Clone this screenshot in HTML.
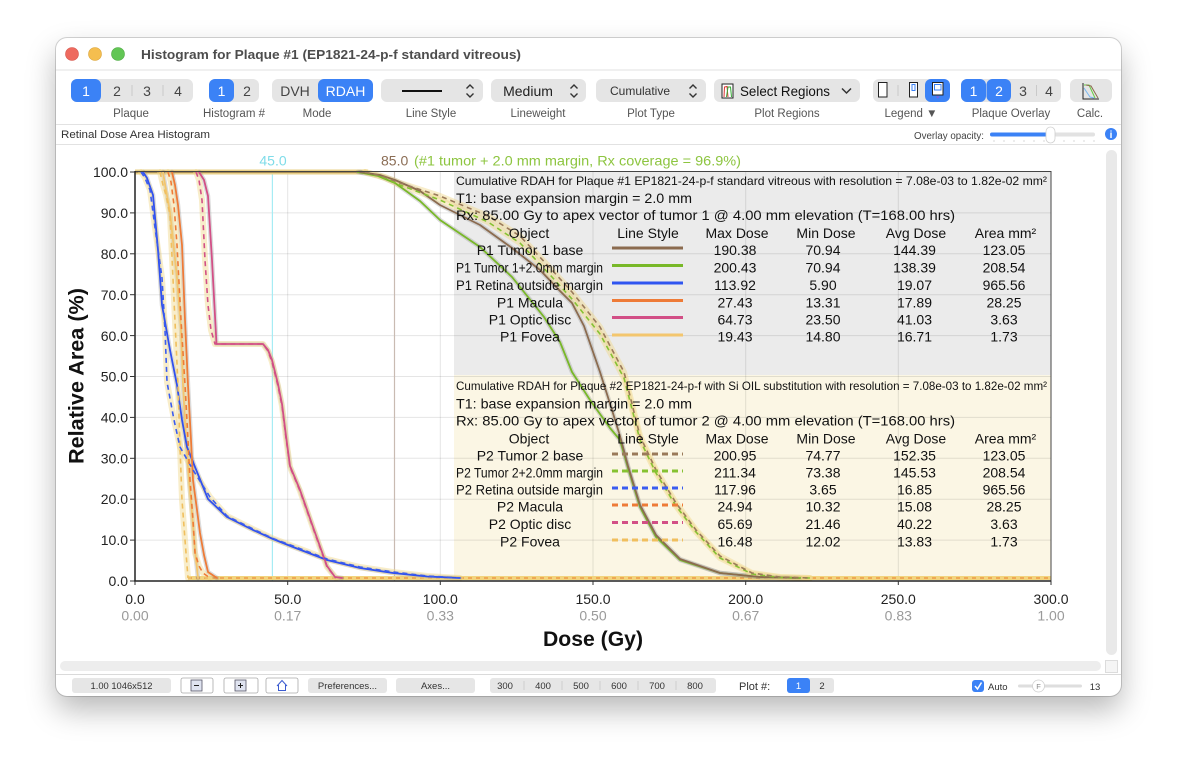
<!DOCTYPE html>
<html><head><meta charset="utf-8">
<style>
html,body{margin:0;padding:0;background:#fff;width:1177px;height:770px;overflow:hidden}
#win{position:absolute;left:56px;top:38px;width:1065px;height:658px;border-radius:11px;background:#fff;box-shadow:0 14px 30px rgba(0,0,0,0.28),0 0 0 1px rgba(0,0,0,0.16)}
svg{position:absolute;left:0;top:0}
text{font-family:"Liberation Sans",sans-serif}
</style></head><body>
<div id="win"></div>
<svg width="1177" height="770" viewBox="0 0 1177 770" xmlns="http://www.w3.org/2000/svg">
<defs>
<polyline id="b1" points="360,172 380,175 395,180 420,191 440,205 480,225 512,248 540,270 560,291 572,303 584,326 600,372 612,410 620,436 628,466 640,505 656,535 680,559 720,573 760,577 800,578"/>
<polyline id="g1" points="358,172 378,176 395,183 420,201 440,220 480,247 512,277 544,317 560,342 572,372 590,400 610,428 620,440 628,468 640,507 656,537 680,560 720,573 760,577 800,578"/>
<polyline id="b2" points="365,172 385,177 400,183 440,196 488,216 520,236 552,270 572,292 600,327 624,372 640,436 656,470 676,503 696,530 720,556 752,573 780,577 810,578"/>
<polyline id="g2" points="365,172 385,178 400,185 440,200 488,222 520,243 552,277 572,299 600,334 624,378 640,440 656,473 676,506 696,532 720,558 752,574 780,577.5 810,578"/>
<polyline id="o1" points="199,172 204,180 208,196 212,260 216.5,344 263,344 268,350 272,360 278,384 282,404 286,436 290,466 300,490 313,527 327,566 335,577 342,578"/>
<polyline id="o2" points="196,172 199,180 202,200 205,260 208,305 211,330 215,344 263,344 268,351 272,362 278,386 282,406 286,438 290,467 300,491 313,528 327,567 336,578"/>
<polyline id="r1" points="143,172 147,178 153,195 158,250 162,305 170,350 177,385 182,420 187,447 195,467 208,499 227,517 253,530 273,539 293,547 327,560 360,568 393,573 427,576.5 460,578"/>
<polyline id="r2" points="141,172 145,178 150,190 156,235 162,278 165,330 167,382 174,420 180,447 193,470 210,497 227,516 253,529 273,538.5 293,546 327,559 360,567 393,572 427,576 460,578"/>
<polyline id="m1" points="172,172 175,185 178,205 182,245 185,320 188,385 191,440 193,480 197,510 200,533 204,555 208,572 217,578"/>
<polyline id="m2" points="168,172 171,182 174,205 177,245 181,320 185,385 188,440 190,480 193,520 195,553 199,566 203,573 210,578"/>
<polyline id="f1" points="163,172 166,190 170,212 177,278 181,330 183,385 186,440 189,480 192,513 195,550 198,578"/>
<polyline id="f2" points="160,172 163,185 166,195 170,215 174,300 178,385 180,447 182,500 185,540 188,578"/>
</defs>

<!-- Title bar -->
<circle cx="72" cy="54" r="6.5" fill="#ee6a5f" stroke="#d4584e" stroke-width="0.6"/>
<circle cx="95" cy="54" r="6.5" fill="#f5be4f" stroke="#d9a53d" stroke-width="0.6"/>
<circle cx="118" cy="54" r="6.5" fill="#62c655" stroke="#4fa944" stroke-width="0.6"/>
<text x="141" y="59" font-size="13" font-weight="bold" fill="#4d4d4d" textLength="380" lengthAdjust="spacingAndGlyphs">Histogram for Plaque #1 (EP1821-24-p-f standard vitreous)</text>
<line x1="56" y1="70" x2="1121" y2="70" stroke="#e2e2e2"/>

<!-- Toolbar -->
<g font-size="14" text-anchor="middle">
<rect x="71" y="79" width="122" height="23" rx="6" fill="#e5e5e5"/>
<rect x="71" y="79" width="30" height="23" rx="6" fill="#3b82f6"/>
<text x="86" y="96" fill="#fff">1</text>
<text x="117" y="96" fill="#444">2</text>
<text x="147" y="96" fill="#444">3</text>
<text x="178" y="96" fill="#444">4</text>
<line x1="132" y1="85" x2="132" y2="96" stroke="#c9c9c9"/>
<line x1="163" y1="85" x2="163" y2="96" stroke="#c9c9c9"/>

<rect x="209" y="79" width="50" height="23" rx="6" fill="#e5e5e5"/>
<rect x="209" y="79" width="25" height="23" rx="6" fill="#3b82f6"/>
<text x="221.5" y="96" fill="#fff">1</text>
<text x="247" y="96" fill="#444">2</text>

<rect x="272" y="79" width="101" height="23" rx="6" fill="#e5e5e5"/>
<rect x="318" y="79" width="55" height="23" rx="6" fill="#3b82f6"/>
<text x="295" y="96" fill="#444">DVH</text>
<text x="345.5" y="96" fill="#fff">RDAH</text>

<rect x="381" y="79" width="102" height="23" rx="6" fill="#e5e5e5"/>
<line x1="402" y1="91" x2="442" y2="91" stroke="#111" stroke-width="2"/>
<path d="M466.5 88.5 L470 85 L473.5 88.5 M466.5 93.5 L470 97 L473.5 93.5" stroke="#333" stroke-width="1.4" fill="none"/>

<rect x="491" y="79" width="95" height="23" rx="6" fill="#e5e5e5"/>
<text x="528" y="96" fill="#222">Medium</text>
<path d="M570.5 88.5 L574 85 L577.5 88.5 M570.5 93.5 L574 97 L577.5 93.5" stroke="#333" stroke-width="1.4" fill="none"/>

<rect x="596" y="79" width="110" height="23" rx="6" fill="#e5e5e5"/>
<text x="640" y="95" fill="#333" font-size="12">Cumulative</text>
<path d="M689.5 88.5 L693 85 L696.5 88.5 M689.5 93.5 L693 97 L696.5 93.5" stroke="#333" stroke-width="1.4" fill="none"/>

<rect x="714" y="79" width="146" height="23" rx="6" fill="#e5e5e5"/>
<rect x="722" y="84" width="11" height="14" fill="#fff" stroke="#222" stroke-width="1"/>
<path d="M724 97 L724.5 87 L727 86.5 L728 97" stroke="#d33" stroke-width="1" fill="none"/>
<path d="M726.5 97 L728 87 L730.5 87 L731.5 97" stroke="#3a3" stroke-width="1" fill="none"/>
<text x="740" y="96" fill="#111" text-anchor="start" textLength="90" lengthAdjust="spacingAndGlyphs">Select Regions</text>
<path d="M842 88.5 L846.5 93 L851 88.5" stroke="#333" stroke-width="1.5" fill="none"/>

<rect x="873" y="79" width="77" height="23" rx="6" fill="#e5e5e5"/>
<rect x="878.5" y="82.5" width="8.5" height="14.5" fill="#fff" stroke="#222" stroke-width="1"/>
<line x1="898" y1="85" x2="898" y2="96" stroke="#c9c9c9"/>
<rect x="909.5" y="82.5" width="8" height="14.5" fill="#fff" stroke="#222" stroke-width="1"/>
<rect x="912" y="84.5" width="3" height="6" fill="none" stroke="#3b82f6" stroke-width="1"/>
<rect x="925" y="79" width="25" height="23" rx="6" fill="#3b82f6"/>
<rect x="932.5" y="82.5" width="10.5" height="12.5" fill="#fff" stroke="#222" stroke-width="1"/>
<rect x="934.5" y="84.5" width="6.5" height="5.5" fill="none" stroke="#3b82f6" stroke-width="1"/>
<path d="M936 96.5 L939.5 96.5 L937.75 98.5 Z" fill="#8a5ad8"/>

<rect x="961" y="79" width="100" height="23" rx="6" fill="#e5e5e5"/>
<rect x="961" y="79" width="25" height="23" rx="6" fill="#3b82f6"/>
<rect x="986.5" y="79" width="24.5" height="23" rx="6" fill="#3b82f6"/>
<text x="973.5" y="96" fill="#fff">1</text>
<text x="999" y="96" fill="#fff">2</text>
<text x="1023" y="96" fill="#444">3</text>
<text x="1049" y="96" fill="#444">4</text>
<line x1="1036.5" y1="85" x2="1036.5" y2="96" stroke="#c9c9c9"/>

<rect x="1070" y="79" width="42" height="23" rx="6" fill="#e5e5e5"/>
<path d="M1083 83 L1083 99 L1099 99" stroke="#222" stroke-width="1" fill="none"/>
<path d="M1084 85 L1089 85 L1095 98" stroke="#6c4" stroke-width="1" fill="none"/>
<path d="M1086 85 L1091 86 L1098 98" stroke="#8b6b4f" stroke-width="1" fill="none"/>
<path d="M1084 88 L1090 97 L1094 98" stroke="#7ab8f0" stroke-width="1" fill="none"/>
</g>
<g font-size="11.5" fill="#555" text-anchor="middle">
<text x="131" y="117">Plaque</text>
<text x="234" y="117">Histogram #</text>
<text x="317" y="117">Mode</text>
<text x="431" y="117">Line Style</text>
<text x="538" y="117">Lineweight</text>
<text x="651" y="117">Plot Type</text>
<text x="787" y="117">Plot Regions</text>
<text x="911" y="117">Legend ▼</text>
<text x="1011" y="117">Plaque Overlay</text>
<text x="1090" y="117">Calc.</text>
</g>
<line x1="56" y1="124.5" x2="1121" y2="124.5" stroke="#e2e2e2"/>
<text x="61" y="138" font-size="11" fill="#333" textLength="149" lengthAdjust="spacingAndGlyphs">Retinal Dose Area Histogram</text>
<text x="914" y="139" font-size="10" fill="#444" textLength="70" lengthAdjust="spacingAndGlyphs">Overlay opacity:</text>
<rect x="990" y="132.5" width="105" height="4" rx="2" fill="#e2e2e2"/>
<rect x="990" y="132.5" width="60" height="4" rx="2" fill="#3b82f6"/>
<g fill="#bbb"><circle cx="994" cy="141" r="0.6"/><circle cx="1004" cy="141" r="0.6"/><circle cx="1014" cy="141" r="0.6"/><circle cx="1024" cy="141" r="0.6"/><circle cx="1034" cy="141" r="0.6"/><circle cx="1044" cy="141" r="0.6"/><circle cx="1054" cy="141" r="0.6"/><circle cx="1064" cy="141" r="0.6"/><circle cx="1074" cy="141" r="0.6"/><circle cx="1084" cy="141" r="0.6"/><circle cx="1094" cy="141" r="0.6"/></g>
<rect x="1046" y="127" width="9" height="16" rx="4.5" fill="#fff" stroke="#d0d0d0" stroke-width="0.8"/>
<circle cx="1111" cy="134" r="6" fill="#3b82f6"/>
<text x="1111" y="138" font-size="10" font-weight="bold" fill="#fff" text-anchor="middle">i</text>
<line x1="56" y1="144.5" x2="1121" y2="144.5" stroke="#e2e2e2"/>

<!-- Plot -->
<rect x="454" y="172" width="597" height="203" fill="#ebebeb"/>
<rect x="454" y="375" width="597" height="202" fill="#fbf6e4"/>
<g stroke="#000" stroke-opacity="0.1" stroke-width="1">
<line x1="135" y1="540.1" x2="1051" y2="540.1"/>
<line x1="135" y1="499.2" x2="1051" y2="499.2"/>
<line x1="135" y1="458.3" x2="1051" y2="458.3"/>
<line x1="135" y1="417.4" x2="1051" y2="417.4"/>
<line x1="135" y1="376.5" x2="1051" y2="376.5"/>
<line x1="135" y1="335.6" x2="1051" y2="335.6"/>
<line x1="135" y1="294.7" x2="1051" y2="294.7"/>
<line x1="135" y1="253.8" x2="1051" y2="253.8"/>
<line x1="135" y1="212.9" x2="1051" y2="212.9"/>
<line x1="287.7" y1="172" x2="287.7" y2="581"/>
<line x1="440.3" y1="172" x2="440.3" y2="581"/>
<line x1="593" y1="172" x2="593" y2="581"/>
<line x1="745.7" y1="172" x2="745.7" y2="581"/>
<line x1="898.3" y1="172" x2="898.3" y2="581"/>
</g>
<line x1="272.4" y1="172" x2="272.4" y2="581" stroke="#a6ecf4" stroke-width="1.2"/>
<line x1="394.5" y1="172" x2="394.5" y2="581" stroke="#c9bbb2" stroke-width="1.2"/>

<!-- plateau and baseline bands -->
<line x1="135" y1="172" x2="368" y2="172" stroke="#e8d08a" stroke-width="5"/>
<line x1="135" y1="172" x2="368" y2="172" stroke="#a88d55" stroke-width="2"/>
<line x1="188" y1="578" x2="1051" y2="578" stroke="#f2d47e" stroke-width="4"/>
<line x1="188" y1="578" x2="1051" y2="578" stroke="#ec8f3c" stroke-width="1.2" stroke-dasharray="4 4"/>

<!-- curves -->
<g fill="none" stroke-linejoin="round" stroke-linecap="round">
<g stroke="#8a8a8a" stroke-opacity="0.3" stroke-width="4.5">
<use href="#r1"/><use href="#m1"/><use href="#f1"/><use href="#o1"/><use href="#b1"/><use href="#g1"/>
</g>
<g stroke="#f0d68a" stroke-opacity="0.45" stroke-width="6">
<use href="#r2"/><use href="#m2"/><use href="#f2"/><use href="#o2"/><use href="#b2"/><use href="#g2"/>
</g>
<g stroke-width="1.8">
<use href="#f1" stroke="#f3c66e"/>
<use href="#r1" stroke="#3050ee"/>
<use href="#m1" stroke="#ee7b37"/>
<use href="#o1" stroke="#d24f86"/>
<use href="#g1" stroke="#78b828"/>
<use href="#b1" stroke="#8b6b4f"/>
</g>
<g stroke-width="1.6" stroke-dasharray="5 4" stroke-linecap="butt">
<use href="#f2" stroke="#f0bf5e"/>
<use href="#r2" stroke="#3a5cf0"/>
<use href="#m2" stroke="#ee7b37"/>
<use href="#o2" stroke="#d24f86"/>
<use href="#g2" stroke="#86c232"/>
<use href="#b2" stroke="#9a7a5a"/>
</g>
</g>

<!-- frame and axes -->
<rect x="135" y="171.5" width="916" height="409.5" fill="none" stroke="#444" stroke-width="1"/>
<line x1="135" y1="171" x2="135" y2="581.5" stroke="#222" stroke-width="1.5"/>
<line x1="134" y1="581" x2="1051" y2="581" stroke="#222" stroke-width="1.5"/>
<g stroke="#333" stroke-width="1">
<line x1="130" y1="172" x2="135" y2="172"/>
<line x1="130" y1="212.9" x2="135" y2="212.9"/>
<line x1="130" y1="253.8" x2="135" y2="253.8"/>
<line x1="130" y1="294.7" x2="135" y2="294.7"/>
<line x1="130" y1="335.6" x2="135" y2="335.6"/>
<line x1="130" y1="376.5" x2="135" y2="376.5"/>
<line x1="130" y1="417.4" x2="135" y2="417.4"/>
<line x1="130" y1="458.3" x2="135" y2="458.3"/>
<line x1="130" y1="499.2" x2="135" y2="499.2"/>
<line x1="130" y1="540.1" x2="135" y2="540.1"/>
<line x1="130" y1="581" x2="135" y2="581"/>
<line x1="135" y1="581" x2="135" y2="585"/>
<line x1="287.7" y1="581" x2="287.7" y2="585"/>
<line x1="440.3" y1="581" x2="440.3" y2="585"/>
<line x1="593" y1="581" x2="593" y2="585"/>
<line x1="745.7" y1="581" x2="745.7" y2="585"/>
<line x1="898.3" y1="581" x2="898.3" y2="585"/>
<line x1="1051" y1="581" x2="1051" y2="585"/>
</g>
<g font-size="14" fill="#222" text-anchor="end">
<text x="128" y="177">100.0</text>
<text x="128" y="218">90.0</text>
<text x="128" y="259">80.0</text>
<text x="128" y="300">70.0</text>
<text x="128" y="341">60.0</text>
<text x="128" y="381.5">50.0</text>
<text x="128" y="422.5">40.0</text>
<text x="128" y="463.5">30.0</text>
<text x="128" y="504">20.0</text>
<text x="128" y="545">10.0</text>
<text x="128" y="586">0.0</text>
</g>
<g font-size="14" fill="#222" text-anchor="middle">
<text x="135" y="604">0.0</text>
<text x="287.7" y="604">50.0</text>
<text x="440.3" y="604">100.0</text>
<text x="593" y="604">150.0</text>
<text x="745.7" y="604">200.0</text>
<text x="898.3" y="604">250.0</text>
<text x="1051" y="604">300.0</text>
</g>
<g font-size="14" fill="#9a9a9a" text-anchor="middle">
<text x="135" y="620.5">0.00</text>
<text x="287.7" y="620.5">0.17</text>
<text x="440.3" y="620.5">0.33</text>
<text x="593" y="620.5">0.50</text>
<text x="745.7" y="620.5">0.67</text>
<text x="898.3" y="620.5">0.83</text>
<text x="1051" y="620.5">1.00</text>
</g>
<text x="593" y="646" font-size="21" font-weight="bold" fill="#111" text-anchor="middle" textLength="100" lengthAdjust="spacingAndGlyphs">Dose (Gy)</text>
<text transform="translate(83.5,376) rotate(-90)" font-size="21" font-weight="bold" fill="#111" text-anchor="middle" textLength="176" lengthAdjust="spacingAndGlyphs">Relative Area (%)</text>

<text x="273" y="165.5" font-size="14" fill="#7fdce9" text-anchor="middle">45.0</text>
<text x="381" y="165.5" font-size="14" fill="#8b6d55">85.0</text>
<text x="414" y="165.5" font-size="14" fill="#8dc540" textLength="327" lengthAdjust="spacingAndGlyphs">(#1 tumor + 2.0 mm margin, Rx coverage = 96.9%)</text>

<!-- legend 1 -->
<g fill="#111">
<text x="456" y="185" font-size="12" textLength="591" lengthAdjust="spacingAndGlyphs">Cumulative RDAH for Plaque #1 EP1821-24-p-f standard vitreous with resolution = 7.08e-03 to 1.82e-02 mm²</text>
<text x="456" y="203" font-size="14" textLength="236" lengthAdjust="spacingAndGlyphs">T1: base expansion margin = 2.0 mm</text>
<text x="456" y="220" font-size="14" textLength="499" lengthAdjust="spacingAndGlyphs">Rx: 85.00 Gy to apex vector of tumor 1 @ 4.00 mm elevation (T=168.00 hrs)</text>
<g font-size="14" text-anchor="middle">
<text x="529" y="238">Object</text>
<text x="648" y="238">Line Style</text>
<text x="737" y="238">Max Dose</text>
<text x="826" y="238">Min Dose</text>
<text x="916" y="238">Avg Dose</text>
<text x="1005.5" y="238">Area mm²</text>

<text x="530" y="255">P1 Tumor 1 base</text>
<text x="735" y="255">190.38</text><text x="823" y="255">70.94</text><text x="914.5" y="255">144.39</text><text x="1004" y="255">123.05</text>
<text x="735" y="272.3">200.43</text><text x="823" y="272.3">70.94</text><text x="914.5" y="272.3">138.39</text><text x="1004" y="272.3">208.54</text>
<text x="735" y="290">113.92</text><text x="823" y="290">5.90</text><text x="914.5" y="290">19.07</text><text x="1004" y="290">965.56</text>
<text x="530" y="307.3">P1 Macula</text>
<text x="735" y="307.3">27.43</text><text x="823" y="307.3">13.31</text><text x="914.5" y="307.3">17.89</text><text x="1004" y="307.3">28.25</text>
<text x="530" y="324.3">P1 Optic disc</text>
<text x="735" y="324.3">64.73</text><text x="823" y="324.3">23.50</text><text x="914.5" y="324.3">41.03</text><text x="1004" y="324.3">3.63</text>
<text x="530" y="341.7">P1 Fovea</text>
<text x="735" y="341.7">19.43</text><text x="823" y="341.7">14.80</text><text x="914.5" y="341.7">16.71</text><text x="1004" y="341.7">1.73</text>
</g>
<text x="456" y="272.3" font-size="14" textLength="147" lengthAdjust="spacingAndGlyphs">P1 Tumor 1+2.0mm margin</text>
<text x="456" y="290" font-size="14" textLength="147" lengthAdjust="spacingAndGlyphs">P1 Retina outside margin</text>
</g>
<g stroke-width="3">
<line x1="612" y1="248" x2="683" y2="248" stroke="#8b6b4f"/>
<line x1="612" y1="265.5" x2="683" y2="265.5" stroke="#78b828"/>
<line x1="612" y1="283" x2="683" y2="283" stroke="#2f55f0"/>
<line x1="612" y1="300.5" x2="683" y2="300.5" stroke="#ee7b37"/>
<line x1="612" y1="317.5" x2="683" y2="317.5" stroke="#d24f86"/>
<line x1="612" y1="335" x2="683" y2="335" stroke="#f3c66e"/>
</g>

<!-- legend 2 -->
<g fill="#111">
<text x="456" y="390" font-size="12" textLength="591" lengthAdjust="spacingAndGlyphs">Cumulative RDAH for Plaque #2 EP1821-24-p-f with Si OIL substitution with resolution = 7.08e-03 to 1.82e-02 mm²</text>
<text x="456" y="408.3" font-size="14" textLength="236" lengthAdjust="spacingAndGlyphs">T1: base expansion margin = 2.0 mm</text>
<text x="456" y="425.7" font-size="14" textLength="499" lengthAdjust="spacingAndGlyphs">Rx: 85.00 Gy to apex vector of tumor 2 @ 4.00 mm elevation (T=168.00 hrs)</text>
<g font-size="14" text-anchor="middle">
<text x="529" y="443.3">Object</text>
<text x="648" y="443.3">Line Style</text>
<text x="737" y="443.3">Max Dose</text>
<text x="826" y="443.3">Min Dose</text>
<text x="916" y="443.3">Avg Dose</text>
<text x="1005.5" y="443.3">Area mm²</text>

<text x="530" y="460.7">P2 Tumor 2 base</text>
<text x="735" y="460.7">200.95</text><text x="823" y="460.7">74.77</text><text x="914.5" y="460.7">152.35</text><text x="1004" y="460.7">123.05</text>
<text x="735" y="477.7">211.34</text><text x="823" y="477.7">73.38</text><text x="914.5" y="477.7">145.53</text><text x="1004" y="477.7">208.54</text>
<text x="735" y="494.5">117.96</text><text x="823" y="494.5">3.65</text><text x="914.5" y="494.5">16.85</text><text x="1004" y="494.5">965.56</text>
<text x="530" y="511.7">P2 Macula</text>
<text x="735" y="511.7">24.94</text><text x="823" y="511.7">10.32</text><text x="914.5" y="511.7">15.08</text><text x="1004" y="511.7">28.25</text>
<text x="530" y="529">P2 Optic disc</text>
<text x="735" y="529">65.69</text><text x="823" y="529">21.46</text><text x="914.5" y="529">40.22</text><text x="1004" y="529">3.63</text>
<text x="530" y="546.5">P2 Fovea</text>
<text x="735" y="546.5">16.48</text><text x="823" y="546.5">12.02</text><text x="914.5" y="546.5">13.83</text><text x="1004" y="546.5">1.73</text>
</g>
<text x="456" y="477.7" font-size="14" textLength="147" lengthAdjust="spacingAndGlyphs">P2 Tumor 2+2.0mm margin</text>
<text x="456" y="494.5" font-size="14" textLength="147" lengthAdjust="spacingAndGlyphs">P2 Retina outside margin</text>
</g>
<g stroke-width="3" stroke-dasharray="6 4">
<line x1="612" y1="454" x2="683" y2="454" stroke="#9a7a5a"/>
<line x1="612" y1="471" x2="683" y2="471" stroke="#86c232"/>
<line x1="612" y1="488" x2="683" y2="488" stroke="#3a5cf0"/>
<line x1="612" y1="505" x2="683" y2="505" stroke="#ee7b37"/>
<line x1="612" y1="522.5" x2="683" y2="522.5" stroke="#d24f86"/>
<line x1="612" y1="540" x2="683" y2="540" stroke="#f0bf5e"/>
</g>

<!-- scrollbars -->
<rect x="1106" y="150" width="11" height="505" rx="5.5" fill="#e9e9e9"/>
<rect x="60" y="661" width="1041" height="10" rx="5" fill="#ededed"/>
<rect x="1105.5" y="660.5" width="12" height="12" fill="#f5f5f5" stroke="#dcdcdc"/>
<line x1="56" y1="674.5" x2="1121" y2="674.5" stroke="#dadada"/>

<!-- status bar -->
<g font-size="9.5" fill="#333" text-anchor="middle">
<rect x="72" y="678" width="99" height="15" rx="3" fill="#e6e6e6"/>
<text x="121.5" y="689" textLength="62" lengthAdjust="spacingAndGlyphs">1.00 1046x512</text>
<rect x="181" y="678" width="32" height="15" rx="2" fill="#fff" stroke="#aaa" stroke-width="0.8"/>
<rect x="191" y="680" width="11" height="11" fill="#dfe3f0" stroke="#556" stroke-width="0.8"/>
<line x1="194" y1="685.5" x2="199" y2="685.5" stroke="#222"/>
<rect x="224" y="678" width="34" height="15" rx="2" fill="#fff" stroke="#aaa" stroke-width="0.8"/>
<rect x="235" y="680" width="11" height="11" fill="#dfe3f0" stroke="#556" stroke-width="0.8"/>
<path d="M238 685.5 L243 685.5 M240.5 683 L240.5 688" stroke="#222"/>
<rect x="266" y="678" width="32" height="15" rx="2" fill="#fff" stroke="#aaa" stroke-width="0.8"/>
<path d="M277 686 L282 680.5 L287 686 M278.5 685 L278.5 690.5 L285.5 690.5 L285.5 685" stroke="#3b5bd0" fill="none" stroke-width="1"/>
<rect x="308" y="678" width="79" height="15" rx="3" fill="#e6e6e6"/>
<text x="347.5" y="689">Preferences...</text>
<rect x="396" y="678" width="79" height="15" rx="3" fill="#e6e6e6"/>
<text x="435.5" y="689">Axes...</text>
<rect x="490" y="678" width="226" height="15" rx="3" fill="#e6e6e6"/>
<text x="505" y="689">300</text><text x="543" y="689">400</text><text x="581" y="689">500</text><text x="619" y="689">600</text><text x="657" y="689">700</text><text x="695" y="689">800</text>
<g stroke="#cfcfcf"><line x1="524" y1="681" x2="524" y2="690"/><line x1="562" y1="681" x2="562" y2="690"/><line x1="600" y1="681" x2="600" y2="690"/><line x1="638" y1="681" x2="638" y2="690"/><line x1="676" y1="681" x2="676" y2="690"/></g>
<text x="739" y="690" text-anchor="start" font-size="11">Plot #:</text>
<rect x="787" y="678" width="47" height="15" rx="3" fill="#e6e6e6"/>
<rect x="787" y="678" width="23" height="15" rx="3" fill="#3b82f6"/>
<text x="798.5" y="689" fill="#fff">1</text>
<text x="822" y="689">2</text>
<rect x="972" y="680" width="12" height="12" rx="3" fill="#3b82f6"/>
<path d="M975 686 L977.5 689 L981.5 682.5" stroke="#fff" stroke-width="1.5" fill="none"/>
<text x="988" y="690" text-anchor="start">Auto</text>
<rect x="1018" y="684.5" width="64" height="3" rx="1.5" fill="#dedede"/>
<circle cx="1038.5" cy="686" r="6" fill="#fff" stroke="#d0d0d0" stroke-width="0.8"/>
<text x="1038.5" y="689" font-size="7.5" fill="#888">F</text>
<text x="1095" y="690">13</text>
</g>
</svg>
</body></html>
